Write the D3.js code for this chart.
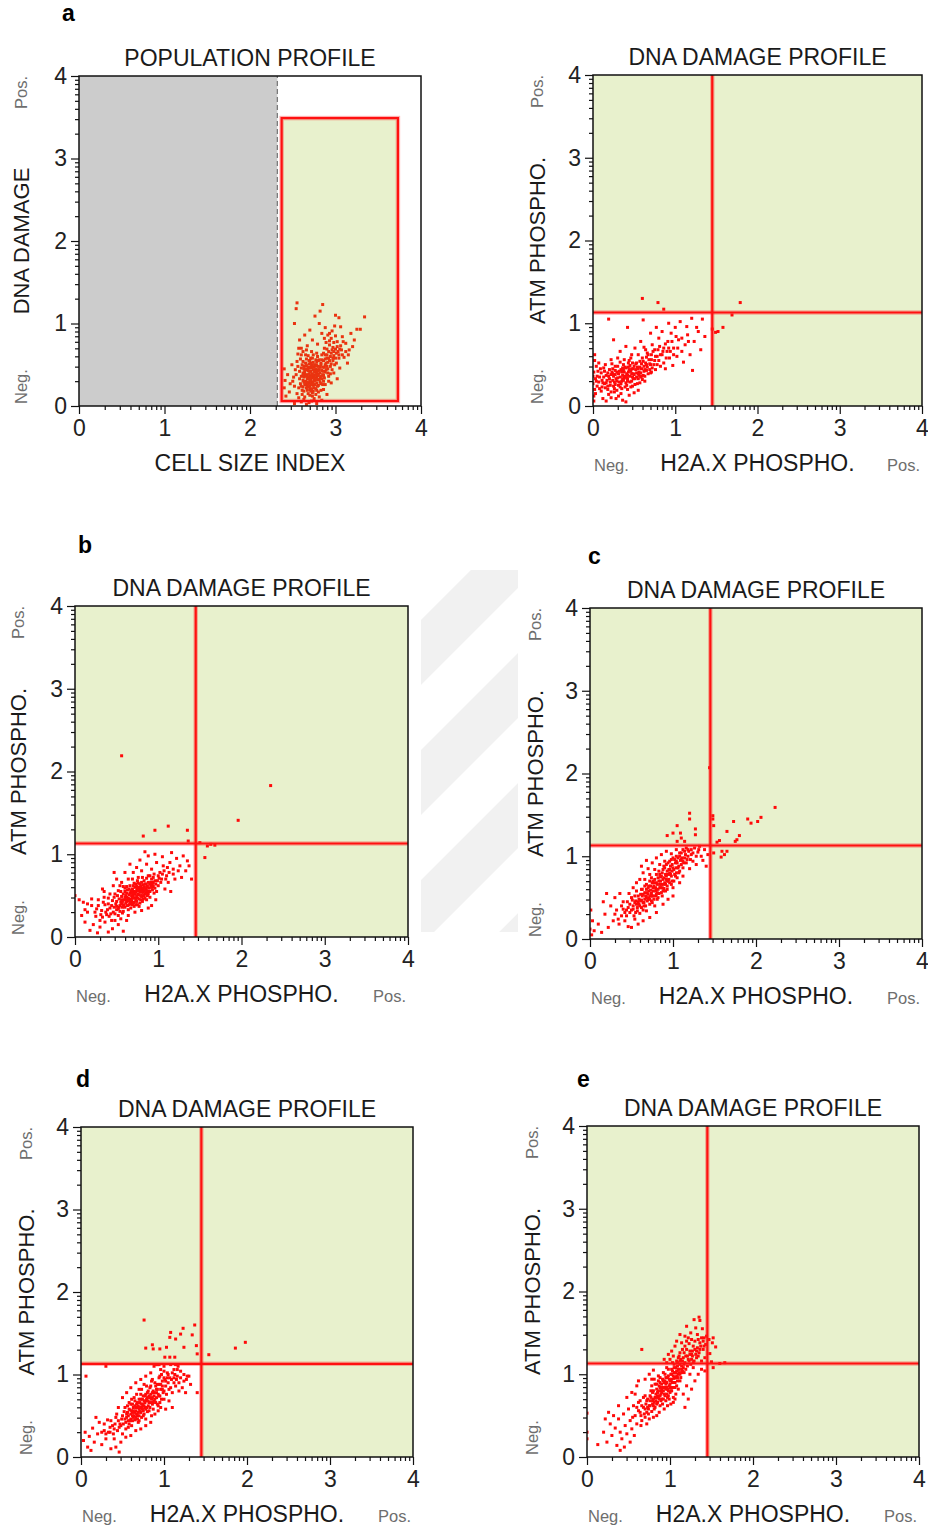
<!DOCTYPE html>
<html>
<head>
<meta charset="utf-8">
<script src="https://cdn.jsdelivr.net/npm/d3@7"></script>
<style>
  body { margin: 0; background: #fff; }
  svg { display: block; }
  text { font-family: "Liberation Sans", Arial, sans-serif; }
</style>
</head>
<body>
<svg id="fig" width="928" height="1531"></svg>
<script>
// ---- axis ticks (log decades, labelled by exponent) ----
const decades = [0, 1, 2, 3, 4];
const tickLabels = ["0", "1", "2", "3", "4"];
const minorSteps = [2, 3, 4, 5, 6, 7, 8, 9];

// ---- gates ----
const quadrantX = 1.45;      // H2A.X phospho threshold (decades)
const quadrantY = 1.13;      // ATM phospho threshold (decades)
const debrisCut = 2.32;      // cell size index below which events are excluded
const gateX = [2.37, 3.73];  // population gate, cell size index
const gateY = [0.06, 3.49];  // population gate, DNA damage

// ---- events: population profile [cell size index, DNA damage] ----
const populationA = [
[2.62,0.31],[2.71,0.42],[2.66,0.22],[2.78,0.35],[2.69,0.51],[2.74,0.18],[2.81,0.44],[2.64,0.40],[2.72,0.29],[2.59,0.27],
[2.77,0.56],[2.68,0.15],[2.85,0.38],[2.63,0.48],[2.75,0.47],[2.70,0.36],[2.80,0.25],[2.66,0.57],[2.73,0.12],[2.61,0.19],
[2.83,0.52],[2.67,0.33],[2.76,0.41],[2.70,0.24],[2.79,0.60],[2.65,0.44],[2.74,0.53],[2.86,0.30],[2.60,0.36],[2.72,0.46],
[2.69,0.28],[2.82,0.34],[2.64,0.26],[2.77,0.21],[2.71,0.58],[2.87,0.47],[2.62,0.54],[2.75,0.32],[2.68,0.43],[2.80,0.17],
[2.73,0.39],[2.66,0.49],[2.78,0.28],[2.63,0.35],[2.84,0.43],[2.70,0.20],[2.76,0.50],[2.67,0.38],[2.81,0.56],[2.72,0.34],
[2.58,0.42],[2.74,0.25],[2.69,0.46],[2.79,0.39],[2.65,0.30],[2.83,0.27],[2.71,0.52],[2.77,0.45],[2.62,0.23],[2.86,0.55],
[2.68,0.61],[2.75,0.37],[2.73,0.16],[2.80,0.48],[2.64,0.37],[2.70,0.42],[2.78,0.53],[2.66,0.27],[2.82,0.40],[2.71,0.31],
[2.61,0.50],[2.76,0.26],[2.69,0.55],[2.84,0.33],[2.74,0.44],[2.67,0.19],[2.79,0.32],[2.72,0.49],[2.63,0.45],[2.77,0.38],
[2.88,0.62],[2.93,0.55],[2.97,0.71],[2.90,0.48],[3.01,0.64],[2.95,0.82],[2.87,0.70],[3.04,0.58],[2.92,0.66],[2.99,0.50],
[2.89,0.77],[3.06,0.73],[2.94,0.60],[3.00,0.85],[2.91,0.53],[2.96,0.68],[3.03,0.66],[2.88,0.57],[2.98,0.61],[2.93,0.74],
[3.08,0.62],[2.86,0.64],[2.95,0.51],[3.02,0.78],[2.90,0.69],
[2.52,0.03],[2.60,0.05],[2.66,0.02],[2.72,0.06],[2.78,0.03],[2.63,0.08],[2.69,0.04],[2.84,0.07],[2.57,0.10],[2.75,0.09],
[2.55,0.15],[2.81,0.11],[2.90,0.14],[2.86,0.20],
[2.40,0.22],[2.41,0.31],[2.40,0.45],[2.42,0.12],[2.44,0.38],[2.47,0.27],[2.49,0.50],[2.46,0.17],[2.51,0.35],[2.53,0.44],
[2.55,1.25],[2.54,1.18],[2.52,1.00],[2.85,1.23],[2.82,1.15],[2.76,1.09],[2.81,1.00],[3.00,1.10],[3.04,1.07],[3.34,1.08],
[3.25,0.93],[3.29,0.93],[2.88,0.95],[2.93,0.88],[2.70,0.92],[2.64,0.86],[2.58,0.80],[2.60,0.70],[2.56,0.63],[2.99,0.97],
[3.08,0.84],[3.12,0.76],[3.16,0.68],[3.20,0.72],[3.10,0.59],[3.14,0.52],[3.05,0.46],[2.98,0.40],[3.02,0.33],[2.95,0.28],
[2.92,0.36],[3.22,0.80],[3.18,0.88],[2.73,0.80],[2.79,0.75],[2.84,0.88],[3.06,0.96],[2.67,0.73],[2.62,0.66],[2.96,0.91],
[2.58,0.33],[2.60,0.46],[2.65,0.52],[2.67,0.24],[2.70,0.47],[2.73,0.58],[2.76,0.31],[2.79,0.44],[2.82,0.29],[2.85,0.47],
[2.88,0.41],[2.91,0.45],[2.94,0.39],[2.97,0.55],[2.90,0.58],[2.84,0.62],[2.78,0.64],[2.72,0.66],[2.65,0.62],[2.59,0.57],
[2.56,0.48],[2.54,0.38],[2.57,0.22],[2.61,0.14],[2.64,0.11],[2.70,0.13],[2.77,0.14],[2.83,0.19],[2.88,0.26],[2.92,0.30],
[2.68,0.35],[2.71,0.26],[2.74,0.35],[2.76,0.43],[2.69,0.39],[2.66,0.45],[2.63,0.29],[2.80,0.37],[2.73,0.50],[2.78,0.49],
[2.95,0.64],[3.00,0.69],[2.93,0.79],[2.98,0.77],[3.05,0.69],[2.87,0.82],[2.91,0.86],[2.97,0.58],[3.01,0.52],[2.89,0.52],
[2.50,0.30],[2.52,0.24],[2.55,0.54],[2.57,0.70],[2.60,0.62],[2.62,0.40],[2.63,0.18],[2.65,0.36],[2.66,0.68],[2.68,0.27],
[2.69,0.33],[2.70,0.55],[2.71,0.18],[2.72,0.38],[2.73,0.27],[2.74,0.62],[2.75,0.22],[2.76,0.34],[2.77,0.49],[2.78,0.41],
[2.79,0.24],[2.80,0.55],[2.81,0.32],[2.82,0.47],[2.83,0.36],[2.84,0.56],[2.85,0.26],[2.86,0.42],[2.87,0.34],[2.88,0.50],
[2.89,0.44],[2.90,0.62],[2.91,0.40],[2.92,0.58],[2.94,0.48],[2.96,0.44],[2.98,0.66],[3.00,0.58],[3.02,0.72],[3.04,0.62],
[3.07,0.68],[3.09,0.78],[3.12,0.66],[3.15,0.62],[2.64,0.43],[2.67,0.29],[2.70,0.30],[2.72,0.21],[2.75,0.42],[2.78,0.19],
[2.60,0.24],[2.62,0.37],[2.68,0.47],[2.74,0.29],[2.80,0.43],[2.83,0.50],[2.86,0.37],[2.69,0.23],[2.71,0.35],[2.77,0.33]
];

// ---- events: DNA damage profiles [H2A.X phospho, ATM phospho] ----
const damageA = [
[0.12,0.28],[0.20,0.33],[0.31,0.25],[0.38,0.41],[0.45,0.36],[0.52,0.44],[0.27,0.38],[0.35,0.30],[0.43,0.47],[0.58,0.40],
[0.15,0.22],[0.24,0.45],[0.33,0.35],[0.40,0.28],[0.48,0.52],[0.55,0.33],[0.62,0.48],[0.29,0.19],[0.37,0.50],[0.46,0.42],
[0.08,0.35],[0.18,0.40],[0.26,0.29],[0.34,0.44],[0.42,0.33],[0.50,0.38],[0.57,0.54],[0.65,0.43],[0.22,0.17],[0.39,0.23],
[0.47,0.30],[0.54,0.47],[0.61,0.37],[0.68,0.56],[0.30,0.48],[0.36,0.37],[0.44,0.55],[0.51,0.26],[0.59,0.45],[0.70,0.50],
[0.10,0.18],[0.17,0.31],[0.25,0.36],[0.32,0.42],[0.41,0.39],[0.49,0.45],[0.56,0.41],[0.64,0.52],[0.72,0.46],[0.21,0.25],
[0.28,0.33],[0.35,0.21],[0.43,0.41],[0.53,0.35],[0.60,0.58],[0.67,0.39],[0.75,0.55],[0.14,0.42],[0.23,0.51],[0.40,0.46],
[0.46,0.23],[0.52,0.51],[0.63,0.30],[0.69,0.44],[0.78,0.60],[0.33,0.53],[0.19,0.14],[0.27,0.43],[0.38,0.34],[0.57,0.28],
[0.01,0.12],[0.02,0.20],[0.00,0.27],[0.03,0.33],[0.01,0.41],[0.04,0.48],[0.02,0.55],[0.00,0.36],[0.05,0.24],[0.03,0.15],
[0.06,0.42],[0.01,0.06],[0.04,0.30],[0.07,0.52],[0.02,0.62],
[0.16,0.06],[0.28,0.09],[0.36,0.07],[0.44,0.13],[0.22,0.10],[0.50,0.16],[0.31,0.12],[0.40,0.05],[0.12,0.09],[0.55,0.19],
[0.75,0.68],[0.82,0.62],[0.88,0.75],[0.93,0.58],[0.98,0.70],[1.04,0.80],[1.08,0.66],[0.80,0.82],[0.72,0.74],[0.86,0.52],
[0.95,0.88],[1.12,0.74],[1.15,0.86],[1.02,0.60],[0.90,0.66],[0.78,0.50],[0.66,0.64],[0.62,0.71],[0.84,0.90],[1.00,0.95],
[1.18,0.62],[1.23,0.78],[1.28,0.90],[1.31,0.68],[1.10,0.53],[0.97,0.49],[1.06,1.02],[0.92,1.00],[0.70,0.88],[0.58,0.78],
[0.51,0.70],[0.47,0.62],[0.40,0.72],[0.33,0.66],[0.25,0.80],[0.19,1.05],[0.42,0.95],[0.61,1.04],[1.20,1.06],[1.33,1.05],
[1.26,0.95],[1.36,0.84],[1.14,0.96],[0.77,0.95],[0.88,0.45],[1.21,0.43],
[0.60,1.30],[0.79,1.25],[0.86,1.17],[1.79,1.25],[1.69,1.10],[1.58,0.95],[1.52,0.90],[1.49,0.89],[1.45,0.93],
[0.13,0.35],[0.18,0.24],[0.22,0.38],[0.26,0.21],[0.30,0.34],[0.34,0.27],[0.37,0.44],[0.41,0.25],[0.45,0.49],[0.49,0.33],
[0.53,0.40],[0.58,0.35],[0.62,0.42],[0.66,0.47],[0.71,0.41],[0.74,0.50],[0.80,0.55],[0.84,0.62],[0.89,0.58],[0.94,0.66],
[0.29,0.41],[0.32,0.29],[0.36,0.46],[0.39,0.36],[0.42,0.30],[0.47,0.39],[0.50,0.48],[0.55,0.45],[0.59,0.51],[0.63,0.36],
[0.24,0.31],[0.20,0.44],[0.16,0.37],[0.11,0.23],[0.09,0.45],[0.07,0.29],[0.27,0.26],[0.44,0.44],[0.48,0.35],[0.56,0.37],
[0.65,0.59],[0.71,0.62],[0.76,0.44],[0.82,0.48],[0.86,0.70],[0.91,0.78],[0.98,0.62],[1.03,0.70],[1.08,0.82],[1.16,0.78],
[0.05,0.36],[0.08,0.21],[0.11,0.31],[0.13,0.46],[0.16,0.28],[0.19,0.36],[0.21,0.29],[0.23,0.41],[0.25,0.24],[0.27,0.48],
[0.29,0.30],[0.31,0.39],[0.33,0.23],[0.35,0.41],[0.37,0.31],[0.39,0.47],[0.41,0.34],[0.43,0.52],[0.45,0.29],[0.47,0.45],
[0.49,0.39],[0.51,0.33],[0.53,0.52],[0.55,0.39],[0.57,0.47],[0.59,0.36],[0.61,0.54],[0.63,0.44],[0.65,0.50],[0.67,0.62],
[0.69,0.51],[0.71,0.56],[0.73,0.66],[0.76,0.60],[0.79,0.68],[0.81,0.72],[0.85,0.66],[0.92,0.70],[0.96,0.78],[1.01,0.84],
[0.18,0.20],[0.26,0.17],[0.34,0.15],[0.42,0.20],[0.48,0.24],[0.54,0.27],[0.10,0.40],[0.15,0.50],[0.22,0.56],[0.30,0.58],
[0.38,0.56],[0.46,0.58],[0.55,0.62],[0.64,0.68],[0.70,0.40],[0.60,0.32],[0.36,0.33],[0.24,0.39],[0.14,0.27],[0.42,0.37]
];

const damageB = [
[0.55,0.42],[0.62,0.48],[0.70,0.51],[0.78,0.55],[0.85,0.58],[0.60,0.36],[0.68,0.44],[0.75,0.47],[0.82,0.63],[0.90,0.55],
[0.50,0.33],[0.58,0.52],[0.65,0.39],[0.72,0.60],[0.80,0.49],[0.88,0.66],[0.94,0.61],[0.53,0.46],[0.63,0.57],[0.71,0.42],
[0.77,0.37],[0.84,0.52],[0.92,0.70],[0.57,0.29],[0.66,0.53],[0.74,0.56],[0.81,0.43],[0.87,0.50],[0.97,0.64],[0.49,0.40],
[0.59,0.45],[0.67,0.35],[0.73,0.64],[0.79,0.59],[0.86,0.45],[0.93,0.57],[0.52,0.26],[0.61,0.41],[0.69,0.58],[0.76,0.52],
[0.83,0.68],[0.91,0.62],[0.56,0.49],[0.64,0.33],[0.72,0.47],[0.78,0.41],[0.85,0.64],[0.95,0.53],[0.47,0.36],[0.60,0.55],
[0.68,0.50],[0.75,0.39],[0.81,0.57],[0.89,0.59],[0.54,0.38],[0.63,0.44],[0.70,0.62],[0.77,0.60],[0.84,0.47],[0.99,0.68],
[0.58,0.31],[0.66,0.46],[0.73,0.54],[0.80,0.66],[0.88,0.52],[0.51,0.50],[0.62,0.61],[0.71,0.37],[0.79,0.45],[0.86,0.71],
[0.94,0.66],[0.57,0.43],[0.65,0.58],[0.74,0.43],[0.82,0.54],[0.90,0.48],[0.48,0.28],[0.67,0.41],[0.76,0.65],[0.83,0.60],
[0.10,0.42],[0.05,0.45],[0.00,0.50],[0.15,0.30],[0.20,0.38],[0.25,0.25],[0.28,0.45],[0.32,0.32],[0.36,0.18],[0.40,0.40],
[0.30,0.12],[0.38,0.27],[0.42,0.52],[0.44,0.20],[0.35,0.48],[0.22,0.15],[0.18,0.08],[0.45,0.10],[0.52,0.15],[0.58,0.07],
[0.62,0.20],[0.40,0.06],[0.27,0.05],[0.12,0.18],[0.08,0.26],[0.33,0.58],[0.46,0.62],[0.50,0.70],[0.56,0.66],[0.60,0.78],
[0.70,0.78],[0.74,0.84],[0.80,0.80],[0.86,0.88],[0.92,0.82],[0.98,0.90],[1.02,0.78],[1.06,0.86],[1.10,0.74],[1.14,0.90],
[1.18,0.82],[1.22,0.95],[1.26,0.86],[1.30,0.98],[1.35,0.92],[1.05,0.97],[0.96,1.00],[0.88,0.98],[0.78,0.93],[0.66,0.88],
[1.00,0.62],[1.04,0.70],[1.08,0.58],[1.12,0.66],[0.97,0.45],[0.92,0.38],[1.15,0.55],[1.20,0.70],[1.28,0.72],[1.33,0.80],
[1.37,0.86],[1.40,0.70],[0.72,0.30],[0.80,0.32],[0.64,0.26],[0.88,0.35],[0.55,0.22],[0.47,0.78],[0.84,1.03],[1.16,1.02],
[0.69,0.70],[0.76,0.72],
[0.82,1.22],[0.96,1.29],[1.12,1.34],[1.35,1.29],[1.56,0.96],[1.59,1.10],[1.63,1.12],[1.68,1.11],[0.56,2.19],[2.35,1.83],
[1.96,1.41],[1.36,1.16],[1.50,1.14],
[0.53,0.36],[0.56,0.40],[0.59,0.38],[0.61,0.50],[0.64,0.47],[0.66,0.40],[0.69,0.47],[0.71,0.55],[0.73,0.45],[0.75,0.58],
[0.77,0.51],[0.79,0.62],[0.81,0.50],[0.83,0.56],[0.85,0.53],[0.87,0.62],[0.89,0.55],[0.91,0.66],[0.93,0.64],[0.96,0.59],
[0.62,0.43],[0.67,0.55],[0.70,0.48],[0.74,0.61],[0.78,0.58],[0.82,0.46],[0.86,0.60],[0.60,0.59],[0.65,0.51],[0.69,0.39],
[0.42,0.35],[0.45,0.44],[0.39,0.33],[0.43,0.28],[0.36,0.39],[0.33,0.24],[0.47,0.48],[0.50,0.43],[0.55,0.55],[0.58,0.61],
[1.00,0.74],[1.03,0.66],[1.07,0.80],[1.11,0.84],[0.95,0.76],[0.90,0.74],[1.18,0.76],[1.24,0.80],[0.98,0.55],[0.26,0.34],
[0.20,0.46],[0.24,0.30],[0.28,0.38],[0.31,0.27],[0.34,0.42],[0.37,0.30],[0.40,0.47],[0.41,0.25],[0.44,0.38],[0.46,0.30],
[0.48,0.52],[0.50,0.37],[0.52,0.56],[0.54,0.31],[0.56,0.45],[0.58,0.39],[0.60,0.48],[0.62,0.53],[0.63,0.38],[0.65,0.44],
[0.66,0.62],[0.68,0.56],[0.70,0.41],[0.71,0.65],[0.72,0.52],[0.74,0.50],[0.75,0.68],[0.77,0.46],[0.78,0.64],[0.80,0.54],
[0.81,0.72],[0.83,0.50],[0.84,0.64],[0.86,0.56],[0.88,0.74],[0.90,0.64],[0.92,0.60],[0.94,0.72],[0.96,0.68],[1.01,0.71],
[1.05,0.76],[1.09,0.70],[1.13,0.78],[0.15,0.40],[0.12,0.33],[0.30,0.20],[0.35,0.55],[0.48,0.20],[0.54,0.62],[0.64,0.70],
[0.52,0.34],[0.57,0.36],[0.61,0.45],[0.66,0.43],[0.69,0.53],[0.73,0.39],[0.76,0.56],[0.79,0.50],[0.82,0.59],[0.87,0.55]
];

const damageC = [
[0.50,0.35],[0.56,0.42],[0.62,0.38],[0.68,0.50],[0.74,0.55],[0.80,0.60],[0.86,0.66],[0.92,0.72],[0.98,0.76],[1.04,0.80],
[0.53,0.28],[0.59,0.48],[0.65,0.44],[0.71,0.58],[0.77,0.48],[0.83,0.70],[0.89,0.61],[0.95,0.84],[1.01,0.70],[1.07,0.88],
[0.48,0.42],[0.55,0.32],[0.61,0.54],[0.67,0.40],[0.73,0.64],[0.79,0.52],[0.85,0.75],[0.91,0.58],[0.97,0.88],[1.03,0.92],
[0.51,0.47],[0.57,0.38],[0.63,0.60],[0.69,0.46],[0.75,0.68],[0.81,0.56],[0.87,0.80],[0.93,0.64],[0.99,0.82],[1.05,0.74],
[0.54,0.52],[0.60,0.31],[0.66,0.56],[0.72,0.42],[0.78,0.72],[0.84,0.62],[0.90,0.86],[0.96,0.68],[1.02,0.96],[1.08,0.82],
[0.58,0.45],[0.64,0.35],[0.70,0.62],[0.76,0.58],[0.82,0.50],[0.88,0.72],[0.94,0.78],[1.00,0.62],[1.06,0.98],[1.10,0.90],
[0.62,0.47],[0.68,0.34],[0.74,0.46],[0.80,0.68],[0.86,0.56],[0.92,0.90],[0.98,0.66],[1.12,0.86],[0.66,0.64],[0.72,0.70],
[0.78,0.40],[0.84,0.78],[0.90,0.68],[0.96,0.94],[1.04,0.86],[0.70,0.54],[0.76,0.62],[0.82,0.74],[0.88,0.58],[0.94,0.70],
[0.02,0.05],[0.00,0.12],[0.03,0.22],[0.01,0.35],[0.05,0.10],[0.10,0.18],[0.14,0.08],[0.18,0.30],[0.22,0.14],[0.25,0.40],
[0.28,0.22],[0.32,0.35],[0.35,0.18],[0.38,0.28],[0.40,0.45],[0.42,0.22],[0.44,0.35],[0.46,0.15],[0.30,0.50],[0.36,0.55],
[0.47,0.55],[0.52,0.62],[0.56,0.68],[0.60,0.72],[0.64,0.80],[0.70,0.85],[0.75,0.92],[0.80,0.98],[0.86,1.02],[0.92,1.06],
[0.98,1.03],[1.04,1.08],[1.10,1.04],[1.14,0.98],[1.18,1.08],[1.22,1.02],[1.26,1.10],[1.30,1.05],[1.34,1.00],[1.38,1.08],
[1.16,0.92],[1.20,0.85],[1.24,0.94],[1.28,0.90],[1.36,0.95],[1.42,1.02],[1.40,0.88],[1.12,0.76],[1.08,0.68],[1.00,0.52],
[0.94,0.48],[0.88,0.42],[0.80,0.32],[0.72,0.26],[0.64,0.22],[0.58,0.18],[0.50,0.14],[0.54,0.24],[0.20,0.55],[0.16,0.45],
[0.62,0.88],[0.68,0.95],[1.32,1.12],
[2.23,1.59],[2.06,1.47],[2.02,1.42],[1.94,1.40],[1.90,1.45],[1.80,1.25],[1.73,1.42],[1.65,1.30],[1.75,1.18],[1.77,1.20],
[1.53,1.17],[1.56,1.19],[1.48,1.49],[1.48,1.45],[1.49,1.37],[1.59,1.06],[1.62,1.02],[1.65,1.06],[1.58,0.99],[1.49,1.04],
[1.20,1.52],[1.20,1.45],[1.05,1.37],[1.00,1.28],[0.93,1.25],[1.09,1.28],[1.10,1.22],[1.27,1.33],[1.27,1.26],[1.05,1.18],
[1.14,1.18],[1.44,2.07],
[0.55,0.46],[0.60,0.40],[0.63,0.52],[0.66,0.48],[0.69,0.56],[0.71,0.50],[0.73,0.59],[0.75,0.52],[0.77,0.64],[0.79,0.58],
[0.81,0.66],[0.83,0.55],[0.85,0.70],[0.87,0.62],[0.89,0.74],[0.91,0.66],[0.93,0.82],[0.95,0.72],[0.97,0.78],[0.99,0.90],
[1.01,0.84],[1.03,0.76],[1.05,0.92],[1.07,0.80],[1.09,0.95],[1.11,0.98],[1.13,0.92],[1.15,1.02],[1.17,0.96],[1.19,1.06],
[0.58,0.52],[0.64,0.44],[0.68,0.60],[0.72,0.48],[0.76,0.70],[0.80,0.54],[0.84,0.66],[0.88,0.84],[0.92,0.76],[0.96,0.84],
[1.00,0.98],[1.04,1.00],[1.08,1.04],[1.12,1.08],[1.22,1.08],[1.16,1.10],[0.46,0.38],[0.52,0.40],[0.44,0.28],[0.40,0.36],
[0.30,0.30],[0.34,0.24],[0.38,0.40],[0.42,0.32],[0.45,0.45],[0.48,0.32],[0.50,0.50],[0.52,0.36],[0.54,0.44],[0.56,0.58],
[0.57,0.34],[0.59,0.42],[0.61,0.46],[0.62,0.60],[0.64,0.54],[0.65,0.40],[0.67,0.52],[0.68,0.66],[0.70,0.48],[0.71,0.64],
[0.73,0.52],[0.74,0.74],[0.76,0.52],[0.77,0.68],[0.79,0.62],[0.80,0.78],[0.82,0.60],[0.83,0.82],[0.85,0.62],[0.86,0.76],
[0.88,0.66],[0.89,0.88],[0.91,0.78],[0.93,0.70],[0.94,0.92],[0.96,0.80],[0.98,0.96],[1.00,0.86],[1.02,0.78],[1.04,0.94],
[1.06,0.86],[1.08,1.00],[1.10,0.96],[1.12,0.94],[1.14,1.06],[1.18,1.00],[1.21,0.96],[1.24,1.04],[1.28,1.00],[1.31,1.08],
[0.66,0.72],[0.72,0.78],[0.78,0.84],[0.84,0.90],[0.90,0.94],[0.75,0.44],[0.81,0.48],[0.87,0.52],[0.93,0.60],[0.99,0.70]
];

const damageD = [
[0.55,0.48],[0.60,0.52],[0.65,0.45],[0.70,0.58],[0.75,0.62],[0.80,0.55],[0.85,0.70],[0.90,0.66],[0.95,0.74],[1.00,0.80],
[0.58,0.40],[0.63,0.60],[0.68,0.50],[0.73,0.48],[0.78,0.68],[0.83,0.60],[0.88,0.78],[0.93,0.62],[0.98,0.86],[1.03,0.76],
[0.52,0.55],[0.57,0.36],[0.62,0.44],[0.67,0.64],[0.72,0.54],[0.77,0.74],[0.82,0.66],[0.87,0.58],[0.92,0.82],[0.97,0.70],
[0.54,0.42],[0.59,0.57],[0.64,0.50],[0.69,0.42],[0.74,0.70],[0.79,0.60],[0.84,0.76],[0.89,0.52],[0.94,0.88],[1.05,0.90],
[0.56,0.62],[0.61,0.38],[0.66,0.56],[0.71,0.66],[0.76,0.52],[0.81,0.80],[0.86,0.64],[0.91,0.72],[0.96,0.60],[1.01,0.94],
[0.60,0.46],[0.65,0.68],[0.70,0.44],[0.75,0.56],[0.80,0.72],[0.85,0.50],[0.90,0.86],[0.95,0.66],[1.00,0.70],[1.08,0.84],
[0.62,0.54],[0.68,0.60],[0.72,0.76],[0.78,0.46],[0.83,0.84],[0.88,0.68],[0.93,0.56],[0.98,0.92],[0.58,0.66],[0.64,0.72],
[0.03,0.20],[0.05,0.30],[0.08,0.12],[0.06,0.98],[0.10,0.25],[0.14,0.35],[0.16,0.18],[0.20,0.28],[0.22,0.42],[0.25,0.15],
[0.28,0.32],[0.30,0.22],[0.32,0.45],[0.35,0.30],[0.38,0.38],[0.40,0.22],[0.42,0.48],[0.44,0.32],[0.46,0.06],[0.47,0.40],
[0.50,0.28],[0.18,0.48],[0.12,0.08],[0.36,0.10],[0.42,0.12],[0.48,0.18],[0.54,0.24],[0.60,0.26],[0.66,0.32],[0.72,0.34],
[0.78,0.38],[0.84,0.42],[0.30,1.10],[0.45,0.60],[0.50,0.72],[0.55,0.78],[0.60,0.84],[0.66,0.90],[0.72,0.94],[0.78,0.98],
[0.84,1.02],[0.88,1.10],[0.92,1.12],[0.96,1.06],[1.00,1.10],[1.04,1.02],[1.08,1.12],[1.12,1.06],[1.16,0.98],[1.20,1.04],
[1.24,0.92],[1.28,0.98],[1.32,0.88],[1.14,0.86],[1.10,0.78],[1.06,0.68],[1.02,0.58],[1.18,0.80],[1.22,0.84],[1.26,0.78],
[0.90,1.12],[0.94,1.12],[1.14,1.12],[0.86,0.94],[0.97,1.00],[1.12,0.96],[1.40,0.78],[0.70,0.82],[0.76,0.88],[1.10,0.60],
[0.76,1.66],[1.37,1.60],[1.23,1.56],[1.20,1.49],[1.34,1.48],[1.08,1.51],[1.14,1.43],[1.24,1.33],[1.07,1.45],[1.03,1.33],
[0.95,1.31],[0.87,1.31],[0.78,1.32],[0.86,1.36],[1.01,1.21],[1.07,1.21],[1.13,1.21],[1.39,1.35],[1.40,1.25],[1.54,1.24],
[1.86,1.32],[1.98,1.39],
[0.57,0.50],[0.61,0.56],[0.63,0.48],[0.66,0.60],[0.67,0.52],[0.69,0.62],[0.71,0.56],[0.73,0.64],[0.74,0.58],[0.76,0.68],
[0.77,0.60],[0.79,0.70],[0.81,0.62],[0.82,0.74],[0.84,0.66],[0.86,0.72],[0.87,0.80],[0.89,0.70],[0.91,0.78],[0.92,0.88],
[0.94,0.74],[0.96,0.82],[0.99,0.78],[1.02,0.86],[1.04,0.96],[1.06,0.82],[1.09,0.94],[1.12,0.90],[1.15,0.94],[1.18,0.90],
[0.53,0.46],[0.56,0.54],[0.59,0.44],[0.62,0.64],[0.65,0.54],[0.68,0.46],[0.70,0.70],[0.73,0.60],[0.75,0.50],[0.78,0.76],
[0.48,0.38],[0.45,0.44],[0.40,0.34],[0.35,0.36],[0.30,0.28],[0.25,0.30],[0.50,0.50],[0.54,0.34],[0.95,0.98],[1.00,1.04],
[0.28,0.40],[0.33,0.30],[0.36,0.44],[0.39,0.28],[0.41,0.40],[0.43,0.52],[0.46,0.36],[0.49,0.46],[0.51,0.40],[0.53,0.60],
[0.55,0.52],[0.57,0.44],[0.58,0.58],[0.60,0.64],[0.62,0.50],[0.63,0.56],[0.65,0.62],[0.66,0.48],[0.68,0.66],[0.69,0.54],
[0.71,0.60],[0.72,0.70],[0.74,0.64],[0.75,0.74],[0.77,0.66],[0.78,0.58],[0.80,0.78],[0.81,0.68],[0.83,0.72],[0.84,0.86],
[0.86,0.78],[0.88,0.74],[0.89,0.90],[0.91,0.82],[0.93,0.76],[0.94,0.96],[0.96,0.88],[0.98,0.82],[1.00,0.96],[1.02,0.92],
[1.05,1.00],[1.07,0.96],[1.10,1.02],[1.13,1.00],[1.16,1.06],[1.20,0.96],[1.24,1.00],[1.27,0.94],[1.30,0.98],[1.17,1.10],
[0.61,0.70],[0.67,0.76],[0.73,0.82],[0.79,0.86],[0.85,0.92],[0.70,0.50],[0.76,0.62],[0.82,0.56],[0.87,0.66],[0.92,0.64]
];

const damageE = [
[0.75,0.62],[0.80,0.70],[0.85,0.66],[0.90,0.78],[0.95,0.82],[1.00,0.88],[1.05,0.95],[1.10,1.00],[0.78,0.55],[0.83,0.76],
[0.88,0.62],[0.93,0.90],[0.98,0.74],[1.03,1.04],[1.08,0.86],[0.72,0.68],[0.77,0.80],[0.82,0.60],[0.87,0.86],[0.92,0.70],
[0.97,0.96],[1.02,0.80],[1.07,1.08],[1.12,0.92],[0.74,0.52],[0.79,0.64],[0.84,0.82],[0.89,0.68],[0.94,1.00],[0.99,0.86],
[1.04,0.72],[1.09,1.10],[1.14,1.02],[0.76,0.74],[0.81,0.58],[0.86,0.92],[0.91,0.64],[0.96,0.76],[1.01,1.00],[1.06,0.84],
[1.11,1.06],[0.73,0.60],[0.78,0.86],[0.83,0.68],[0.88,0.96],[0.93,0.58],[0.98,1.06],[1.03,0.90],[1.08,0.98],[1.16,1.08],
[0.80,0.48],[0.85,0.74],[0.90,0.88],[0.95,0.68],[1.00,0.78],[1.05,1.02],[1.10,0.82],[0.82,0.88],[0.87,0.54],[0.92,1.02],
[0.97,0.62],[1.02,0.94],[1.07,0.76],[1.12,1.12],[0.70,0.58],[0.75,0.46],[0.84,0.50],[0.94,0.84],[1.04,0.66],[0.89,0.80],
[0.79,0.78],[0.99,0.70],[1.09,0.92],[0.91,0.94],[0.86,0.72],[0.96,0.90],[1.01,0.64],[1.06,0.70],[0.81,0.94],[1.13,0.96],
[0.96,1.14],[1.00,1.18],[1.04,1.22],[1.08,1.16],[1.12,1.26],[1.16,1.20],[1.20,1.30],[1.24,1.24],[1.28,1.34],[1.32,1.28],
[1.36,1.38],[1.40,1.30],[1.02,1.28],[1.06,1.34],[1.10,1.20],[1.14,1.38],[1.18,1.14],[1.22,1.44],[1.26,1.18],[1.30,1.40],
[1.34,1.22],[1.38,1.16],[0.98,1.24],[1.42,1.20],[1.44,1.46],[1.15,1.30],[1.25,1.50],[1.33,1.48],[1.39,1.55],[1.20,1.58],
[1.36,1.65],[1.35,1.69],[1.29,1.66],[1.12,1.48],[1.08,1.40],[1.18,1.46],[1.23,1.37],[1.31,1.56],[1.41,1.44],[0.93,1.18],
[0.66,1.30],[1.52,1.44],[1.51,1.38],[1.55,1.33],[1.50,1.15],[1.60,1.13],[1.66,1.14],[1.52,1.08],[1.47,1.42],[1.48,1.25],
[0.00,0.22],[0.00,0.53],[0.00,0.30],[0.13,0.15],[0.20,0.30],[0.24,0.18],[0.28,0.40],[0.30,0.26],[0.34,0.35],[0.36,0.14],
[0.38,0.46],[0.40,0.30],[0.42,0.22],[0.44,0.52],[0.46,0.38],[0.48,0.28],[0.50,0.58],[0.52,0.44],[0.54,0.34],[0.56,0.62],
[0.58,0.50],[0.60,0.40],[0.62,0.66],[0.64,0.54],[0.66,0.44],[0.68,0.72],[0.70,0.48],[0.57,0.26],[0.45,0.12],[0.32,0.50],
[0.26,0.54],[0.22,0.46],[0.38,0.62],[0.48,0.72],[0.54,0.78],[0.60,0.86],[0.65,0.38],[0.72,0.40],[0.52,0.18],[0.40,0.08],
[0.62,0.92],[0.58,0.76],[0.70,0.94],[0.75,1.00],[0.80,1.05],
[1.18,0.60],[1.22,0.70],[1.26,0.82],[1.30,0.92],[1.34,1.00],[1.38,1.06],[1.20,0.86],[1.24,1.00],[1.28,1.08],[1.16,0.76],
[1.42,1.04],
[0.82,0.72],[0.84,0.64],[0.86,0.80],[0.88,0.74],[0.90,0.70],[0.91,0.84],[0.93,0.76],[0.94,0.92],[0.96,0.84],[0.97,0.72],
[0.99,0.94],[1.00,0.84],[1.01,0.92],[1.03,0.84],[1.04,0.98],[1.06,0.90],[1.07,1.02],[1.09,0.96],[1.10,1.06],[1.12,1.00],
[1.14,1.10],[1.15,1.04],[1.17,1.12],[1.19,1.06],[1.21,1.10],[1.23,1.16],[1.25,1.12],[1.27,1.22],[1.29,1.16],[1.31,1.24],
[1.33,1.32],[1.35,1.26],[1.37,1.34],[1.40,1.40],[1.43,1.36],[1.17,1.26],[1.21,1.22],[1.27,1.28],[1.13,1.18],[1.05,1.12],
[0.88,0.84],[0.92,0.80],[0.95,0.96],[0.98,0.80],[1.02,1.06],[0.80,0.62],[0.76,0.68],[0.72,0.54],[0.68,0.60],[0.65,0.50],
[0.62,0.56],[0.66,0.62],[0.69,0.52],[0.71,0.64],[0.73,0.70],[0.74,0.58],[0.76,0.62],[0.77,0.72],[0.79,0.68],[0.80,0.80],
[0.81,0.66],[0.83,0.72],[0.84,0.88],[0.85,0.78],[0.87,0.70],[0.88,0.90],[0.89,0.76],[0.90,0.82],[0.92,0.92],[0.93,0.84],
[0.94,0.74],[0.95,0.88],[0.97,0.82],[0.98,0.98],[1.00,0.92],[1.01,0.80],[1.02,1.00],[1.04,0.90],[1.05,1.08],[1.06,0.96],
[1.08,1.04],[1.09,1.14],[1.11,1.02],[1.12,1.16],[1.14,1.06],[1.15,1.16],[1.17,1.02],[1.19,1.22],[1.22,1.18],[1.24,1.28],
[1.26,1.24],[1.28,1.14],[1.30,1.30],[1.32,1.20],[1.34,1.42],[1.36,1.30],[1.38,1.44],[1.41,1.34],[1.18,1.34],[1.26,1.42],
[0.55,0.48],[0.60,0.60],[0.64,0.68],[0.70,0.74],[0.78,0.94],[0.86,0.98],[0.96,1.08],[1.03,1.14],[1.11,1.22],[1.20,1.40]
];

// ---- panel layout (pixel boxes: left, top, right, bottom) ----
const panels = [
  { kind: "population", letter: "a", letterAt: [62, 21], title: "POPULATION PROFILE",
    xTitle: "CELL SIZE INDEX", yTitle: "DNA DAMAGE", box: [79, 76, 421, 406], yTitleGap: 58,
    events: populationA, color: "#ea3410" },
  { kind: "damage", letter: "", letterAt: [0, 0], title: "DNA DAMAGE PROFILE",
    xTitle: "H2A.X PHOSPHO.", yTitle: "ATM PHOSPHO.", box: [593, 75, 922, 406], yTitleGap: 56,
    events: damageA, color: "#ff0a0a" },
  { kind: "damage", letter: "b", letterAt: [78, 553], title: "DNA DAMAGE PROFILE",
    xTitle: "H2A.X PHOSPHO.", yTitle: "ATM PHOSPHO.", box: [75, 606, 408, 937], yTitleGap: 57,
    events: damageB, color: "#ff0a0a" },
  { kind: "damage", letter: "c", letterAt: [588, 564], title: "DNA DAMAGE PROFILE",
    xTitle: "H2A.X PHOSPHO.", yTitle: "ATM PHOSPHO.", box: [590, 608, 922, 939], yTitleGap: 55,
    events: damageC, color: "#ff0a0a" },
  { kind: "damage", letter: "d", letterAt: [76, 1087], title: "DNA DAMAGE PROFILE",
    xTitle: "H2A.X PHOSPHO.", yTitle: "ATM PHOSPHO.", box: [81, 1127, 413, 1457], yTitleGap: 55,
    events: damageD, color: "#ff0a0a" },
  { kind: "damage", letter: "e", letterAt: [577, 1087], title: "DNA DAMAGE PROFILE",
    xTitle: "H2A.X PHOSPHO.", yTitle: "ATM PHOSPHO.", box: [587, 1126, 919, 1457], yTitleGap: 55,
    events: damageE, color: "#ff0a0a" }
];

const GREEN = "#e8f1cd";
const GREY = "#cccccc";
const RED = "#ff1010";
const DOT = 3;

const svg = d3.select("#fig");
const defs = svg.append("defs");

// faint striped watermark between the middle panels
const wm = defs.append("pattern").attr("id", "stripes")
  .attr("patternUnits", "userSpaceOnUse").attr("width", 92).attr("height", 92)
  .attr("patternTransform", "rotate(45)");
wm.append("rect").attr("width", 46).attr("height", 92).attr("fill", "#f1f1f1");
svg.append("rect").attr("x", 421).attr("y", 570).attr("width", 97).attr("height", 362)
  .attr("fill", "url(#stripes)");

const minorTicks = [];
decades.slice(0, -1).forEach(d => minorSteps.forEach(k => minorTicks.push(d + Math.log10(k))));

panels.forEach((p, i) => {
  const [L, T, R, B] = p.box;
  const x = d3.scaleLinear().domain([0, 4]).range([L, R]);
  const y = d3.scaleLinear().domain([0, 4]).range([B, T]);
  const g = svg.append("g");

  defs.append("clipPath").attr("id", "clip" + i)
    .append("rect").attr("x", L).attr("y", T).attr("width", R - L).attr("height", B - T);
  const plot = g.append("g").attr("clip-path", `url(#clip${i})`);

  // background regions
  if (p.kind === "population") {
    plot.append("rect").attr("x", L).attr("y", T).attr("width", R - L).attr("height", B - T).attr("fill", "#fff");
    plot.append("rect").attr("x", x(0)).attr("y", y(4))
      .attr("width", x(debrisCut) - x(0)).attr("height", y(0) - y(4)).attr("fill", GREY);
    plot.append("line").attr("x1", x(debrisCut)).attr("x2", x(debrisCut)).attr("y1", y(0)).attr("y2", y(4))
      .attr("stroke", "#7a7a7a").attr("stroke-width", 1.3).attr("stroke-dasharray", "5,3");
    plot.append("rect").attr("x", x(gateX[0])).attr("y", y(gateY[1]))
      .attr("width", x(gateX[1]) - x(gateX[0])).attr("height", y(gateY[0]) - y(gateY[1]))
      .attr("fill", GREEN);
  } else {
    plot.append("rect").attr("x", L).attr("y", T).attr("width", R - L).attr("height", B - T).attr("fill", GREEN);
    plot.append("rect").attr("x", x(0)).attr("y", y(quadrantY))
      .attr("width", x(quadrantX) - x(0)).attr("height", y(0) - y(quadrantY)).attr("fill", "#fff");
  }

  // events
  plot.append("g").selectAll("rect").data(p.events).join("rect")
    .attr("x", d => x(d[0]) - DOT / 2).attr("y", d => y(d[1]) - DOT / 2)
    .attr("width", DOT).attr("height", DOT).attr("fill", p.color);

  // gate / quadrant markers
  if (p.kind === "population") {
    [["rgba(255,40,40,0.35)", 4.5], [RED, 2.2]].forEach(([c, w]) => {
      plot.append("rect").attr("x", x(gateX[0])).attr("y", y(gateY[1]))
        .attr("width", x(gateX[1]) - x(gateX[0])).attr("height", y(gateY[0]) - y(gateY[1]))
        .attr("fill", "none").attr("stroke", c).attr("stroke-width", w);
    });
  } else {
    const lines = plot.append("g");
    [["rgba(255,40,40,0.35)", 4.5], [RED, 2.2]].forEach(([c, w]) => {
      lines.append("line").attr("x1", x(quadrantX)).attr("x2", x(quadrantX)).attr("y1", y(0)).attr("y2", y(4))
        .attr("stroke", c).attr("stroke-width", w);
      lines.append("line").attr("x1", x(0)).attr("x2", x(4)).attr("y1", y(quadrantY)).attr("y2", y(quadrantY))
        .attr("stroke", c).attr("stroke-width", w);
    });
  }

  // frame
  g.append("rect").attr("x", L).attr("y", T).attr("width", R - L).attr("height", B - T)
    .attr("fill", "none").attr("stroke", "#111").attr("stroke-width", 1.5);

  // axes: major decades + log minor ticks
  const styleAxis = (a) => {
    a.select(".domain").remove();
    a.selectAll("line").attr("stroke", "#111").attr("stroke-width", 1.2);
    a.selectAll("text").attr("font-size", 23).attr("fill", "#222")
      .attr("font-family", "'Liberation Sans', Arial, sans-serif");
  };
  g.append("g").attr("transform", `translate(0,${B})`)
    .call(d3.axisBottom(x).tickValues(minorTicks).tickSize(4).tickFormat(""))
    .call(styleAxis);
  g.append("g").attr("transform", `translate(0,${B})`)
    .call(d3.axisBottom(x).tickValues(decades).tickSize(8).tickPadding(6).tickFormat((d, j) => tickLabels[j]))
    .call(styleAxis);
  g.append("g").attr("transform", `translate(${L},0)`)
    .call(d3.axisLeft(y).tickValues(minorTicks).tickSize(4).tickFormat(""))
    .call(styleAxis);
  g.append("g").attr("transform", `translate(${L},0)`)
    .call(d3.axisLeft(y).tickValues(decades).tickSize(8).tickPadding(4).tickFormat((d, j) => tickLabels[j]))
    .call(styleAxis);

  // titles
  g.append("text").attr("x", (L + R) / 2).attr("y", T - 10).attr("text-anchor", "middle")
    .attr("font-size", 23).attr("fill", "#1a1a1a").text(p.title);
  g.append("text").attr("x", (L + R) / 2).attr("y", B + 65).attr("text-anchor", "middle")
    .attr("font-size", 23).attr("fill", "#1a1a1a").text(p.xTitle);
  const yx = L - p.yTitleGap;
  g.append("text").attr("transform", `translate(${yx},${(T + B) / 2}) rotate(-90)`)
    .attr("text-anchor", "middle").attr("dominant-baseline", "central")
    .attr("font-size", 22).attr("fill", "#1a1a1a").text(p.yTitle);

  // Neg./Pos. markers
  const addSmall = (sel) => sel.attr("font-size", 16.5).attr("fill", "#6e6e6e");
  g.append("text").attr("transform", `translate(${yx},${T}) rotate(-90)`)
    .attr("text-anchor", "end").attr("dominant-baseline", "central").text("Pos.").call(addSmall);
  g.append("text").attr("transform", `translate(${yx},${B - 2}) rotate(-90)`)
    .attr("text-anchor", "start").attr("dominant-baseline", "central").text("Neg.").call(addSmall);
  if (p.kind === "damage") {
    g.append("text").attr("x", L + 1).attr("y", B + 65).attr("text-anchor", "start").text("Neg.").call(addSmall);
    g.append("text").attr("x", R - 2).attr("y", B + 65).attr("text-anchor", "end").text("Pos.").call(addSmall);
  }

  // panel letter
  if (p.letter) {
    g.append("text").attr("x", p.letterAt[0]).attr("y", p.letterAt[1])
      .attr("font-family", "'Liberation Serif', 'Times New Roman', serif")
      .attr("font-weight", "bold").attr("font-size", 23).attr("fill", "#000").text(p.letter);
  }
});
</script>
</body>
</html>
